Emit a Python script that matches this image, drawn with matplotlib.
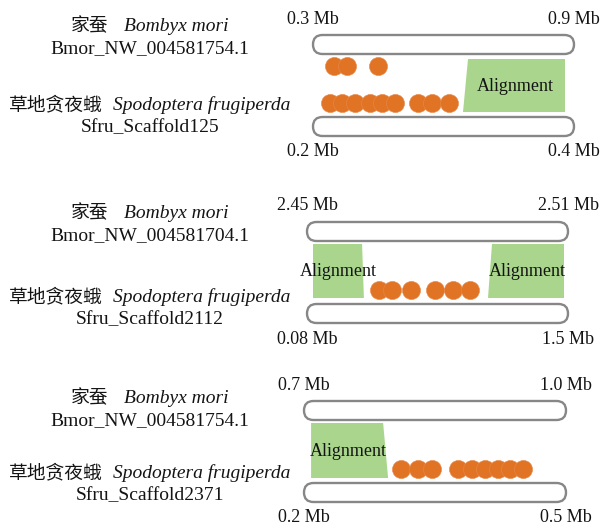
import matplotlib
matplotlib.use('Agg')
import matplotlib.pyplot as plt
from matplotlib.patches import FancyBboxPatch, Polygon

# positions along each track, in % of the track length (0 = left end, 100 = right end)
p1_bmor_genes = [8.0, 13.0, 24.9]
p1_sfru_genes = [6.5, 11.1, 16.1, 21.8, 26.4, 31.4, 40.2, 45.6, 52.1]
p1_align = [((59.4, 96.6), (57.5, 96.6))]          # (top left/right, bottom left/right)

p2_genes = [27.6, 32.6, 39.8, 49.0, 55.9, 62.5]
p2_align = [((2.3, 21.1), (2.3, 21.8)), ((70.9, 98.5), (69.3, 98.5))]

p3_genes = [37.0, 43.5, 48.9, 58.8, 64.1, 69.1, 74.0, 78.6, 83.6]
p3_align = [((2.7, 30.2), (2.7, 32.1))]

bmor_ids = ['Bmor_NW_004581754.1', 'Bmor_NW_004581704.1', 'Bmor_NW_004581754.1']
sfru_ids = ['Sfru_Scaffold125', 'Sfru_Scaffold2112', 'Sfru_Scaffold2371']
bmor_ranges = [('0.3 Mb', '0.9 Mb'), ('2.45 Mb', '2.51 Mb'), ('0.7 Mb', '1.0 Mb')]
sfru_ranges = [('0.2 Mb', '0.4 Mb'), ('0.08 Mb', '1.5 Mb'), ('0.2 Mb', '0.5 Mb')]

ORANGE = '#e07424'
GREEN = '#a9d68c'
GREY = '#878787'
INK = '#141414'
SERIF = 'Liberation Serif'
CJK = ['Noto Sans CJK SC', 'DejaVu Sans']

# layout in pixels: bar left, bar right, top bar top, bottom bar top, gene rows, alignment top/bottom, left text lines
layout = [
    dict(l=313, r=574, t=35, b=117, rows=[66, 103], at=59, ab=112, txt=[25, 49, 104, 128]),
    dict(l=307, r=568, t=222, b=304, rows=[290], at=244, ab=298, txt=[212, 236, 296, 320]),
    dict(l=304, r=566, t=401, b=483, rows=[469], at=423, ab=478, txt=[397, 421, 472, 496]),
]
genes = [[p1_bmor_genes, p1_sfru_genes], [p2_genes], [p3_genes]]
aligns = [p1_align, p2_align, p3_align]
BAR_H = 19
W, H = 600, 526

fig = plt.figure(figsize=(W / 100, H / 100), dpi=100)
ax0 = fig.add_axes([0, 0, 1, 1])
ax0.set_xlim(0, W)
ax0.set_ylim(H, 0)
ax0.axis('off')

pairs = []
for i, lay in enumerate(layout):
    # the two scaffolds
    for yt in (lay['t'], lay['b']):
        ax0.add_patch(FancyBboxPatch((lay['l'], yt), lay['r'] - lay['l'], BAR_H,
                                     boxstyle='round,pad=0,rounding_size=9.5',
                                     fc='white', ec=GREY, lw=1.7))
    # range labels centred on the bar ends
    for (lab_l, lab_r), y in ((bmor_ranges[i], lay['t'] - 16), (sfru_ranges[i], lay['b'] + BAR_H + 16)):
        ax0.text(lay['l'], y, lab_l, ha='center', va='center', fontsize=13, family=SERIF, color=INK)
        ax0.text(lay['r'], y, lab_r, ha='center', va='center', fontsize=13, family=SERIF, color=INK)

    # species names and scaffold ids on the left
    y1, y2, y3, y4 = lay['txt']
    pairs.append((y1, '家蚕', 'Bombyx mori', 16))
    pairs.append((y3, '草地贪夜蛾', 'Spodoptera frugiperda', 10))
    ax0.text(150, y2, bmor_ids[i], ha='center', va='center', fontsize=14, family=SERIF, color=INK)
    ax0.text(150, y4, sfru_ids[i], ha='center', va='center', fontsize=14, family=SERIF, color=INK)

    # panel axes: x in % of the track, y in figure pixels
    ax = fig.add_axes([lay['l'] / W, 1 - (lay['b'] + BAR_H) / H,
                       (lay['r'] - lay['l']) / W, (lay['b'] + BAR_H - lay['t']) / H])
    ax.set_xlim(0, 100)
    ax.set_ylim(lay['b'] + BAR_H, lay['t'])
    ax.axis('off')
    ax.patch.set_alpha(0)

    for (tl, tr), (bl, br) in aligns[i]:
        ax.add_patch(Polygon([(tl, lay['at']), (tr, lay['at']), (br, lay['ab']), (bl, lay['ab'])],
                             closed=True, fc=GREEN, ec='none', zorder=1))
        ax.text((tl + tr + bl + br) / 4, (lay['at'] + lay['ab']) / 2 + 1, 'Alignment',
                ha='center', va='center', fontsize=13, family=SERIF, color=INK, zorder=3)

    for row_y, xs in zip(lay['rows'], genes[i]):
        ax.scatter(xs, [row_y] * len(xs), s=170, c=ORANGE, edgecolors='#e8884a',
                   linewidths=0.4, zorder=2, clip_on=False)

# centre the two-part species lines (Chinese upright + Latin italic)
fig.canvas.draw()
rend = fig.canvas.get_renderer()
for y, cn, latin, gap in pairs:
    t1 = ax0.text(0, y + 6, cn, ha='left', va='baseline', fontsize=13.5, family=CJK, color=INK)
    t2 = ax0.text(0, y + 6, latin, ha='left', va='baseline', fontsize=14, family=SERIF,
                  style='italic', color=INK)
    w1 = t1.get_window_extent(rend).width
    w2 = t2.get_window_extent(rend).width
    x0 = 150 - (w1 + gap + w2) / 2
    t1.set_x(x0)
    t2.set_x(x0 + w1 + gap)

fig.savefig('out.png', dpi=100, facecolor='white')
